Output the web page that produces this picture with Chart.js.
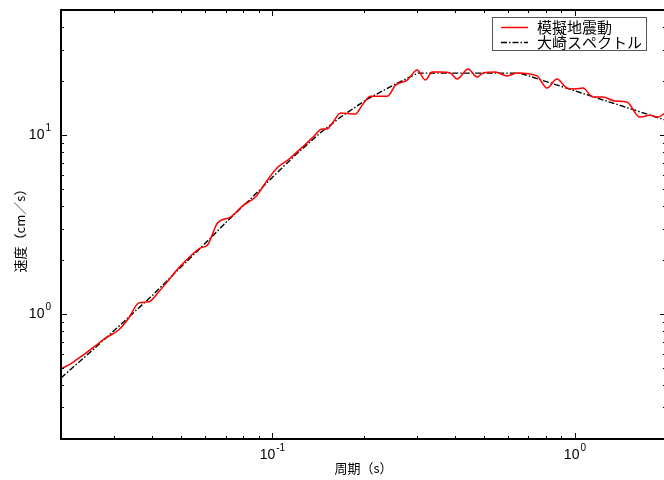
<!DOCTYPE html>
<html>
<head>
<meta charset="utf-8">
<script src="https://cdn.jsdelivr.net/npm/chart.js@4/dist/chart.umd.min.js"></script>
<style>
html, body { margin: 0; padding: 0; overflow: hidden; background: #fff; }
canvas { display: block; }
</style>
</head>
<body>
<canvas id="spectrum-chart" width="670" height="480"></canvas>
<script>
// --- values --- //
// simulated ground motion (red)
const simPeriods = [0.02, 0.0215, 0.0232, 0.0257, 0.0281, 0.031, 0.0335, 0.0361, 0.039, 0.0421,
    0.0454, 0.049, 0.0536, 0.0579, 0.061, 0.0658, 0.0727, 0.0802, 0.0879, 0.0948,
    0.104, 0.113, 0.124, 0.136, 0.146, 0.151, 0.158, 0.168, 0.188, 0.198, 0.211,
    0.24, 0.255, 0.279, 0.301, 0.32, 0.337, 0.359, 0.387, 0.408, 0.443,
    0.475, 0.497, 0.545, 0.597, 0.644, 0.749, 0.808, 0.872, 0.941, 1.0,
    1.063, 1.147, 1.237, 1.355, 1.484, 1.639, 1.768, 1.879, 2.0];
const simVelocity = [0.493, 0.526, 0.575, 0.654, 0.734, 0.814, 0.95, 1.15, 1.17, 1.33,
    1.55, 1.81, 2.11, 2.34, 2.43, 3.22, 3.48, 4.06, 4.5, 5.4,
    6.6, 7.3, 8.4, 9.7, 10.8, 10.8, 11.7, 13.3, 13.1, 14.7, 16.5,
    16.5, 19.0, 20.3, 23.1, 20.3, 22.5, 22.5, 22.2, 20.6, 23.4,
    21.1, 22.2, 22.5, 21.4, 22.2, 21.4, 18.3, 20.6, 18.3, 18.1,
    18.3, 16.3, 16.3, 15.5, 15.3, 12.6, 12.9, 12.6, 13.4];

// Osaki spectrum (black dash-dot)
const osakiPeriods = [0.02, 0.0257, 0.0322, 0.0405, 0.049, 0.0592, 0.071, 0.0846, 0.101, 0.119,
    0.144, 0.168, 0.206, 0.245, 0.271, 0.303, 0.658, 2.0];
const osakiVelocity = [0.439, 0.638, 0.902, 1.29, 1.78, 2.43, 3.31, 4.39, 5.9, 7.73,
    10.3, 12.6, 15.9, 18.6, 20.3, 22.2, 22.2, 12.1];

const seriesNames = ["模擬地震動", "大崎スペクトル"];

// axis ranges and labelled decades
const xRange = [0.02, 2];
const yRange = [0.2, 50];
const xTickValues = [0.1, 1];
const xTickExponents = ["-1", "0"];
const yTickValues = [1, 10];
const yTickExponents = ["0", "1"];
const xTitle = "周期（s）";
const yTitle = "速度（cm／s）";

const jpFont = '"Noto Sans CJK JP", sans-serif';
const numFont = '"Liberation Sans", Arial, sans-serif';

// all 1..9 x 10^n values inside a log range
const logTicks = (min, max) => {
    const ticks = [];
    for (let e = Math.floor(Math.log10(min)); e <= Math.ceil(Math.log10(max)); e++) {
        for (let m = 1; m <= 9; m++) {
            const v = parseFloat((m * Math.pow(10, e)).toPrecision(3));
            if (v >= min * 0.999 && v <= max * 1.001) ticks.push({ v, major: m === 1 });
        }
    }
    return ticks;
};

const drawPower = (ctx, exp, x, y, align) => {
    ctx.font = '14px ' + numFont;
    const wBase = ctx.measureText('10').width;
    ctx.font = '10px ' + numFont;
    const wExp = ctx.measureText(exp).width + 1;
    let start = align === 'center' ? x - (wBase + wExp) / 2 : x - wBase - wExp;
    ctx.textAlign = 'left';
    ctx.textBaseline = 'middle';
    ctx.font = '14px ' + numFont;
    ctx.fillText('10', start, y);
    ctx.font = '10px ' + numFont;
    ctx.fillText(exp, start + wBase + 1, y - 7);
};

// -- frame, inward ticks, labels, titles and legend --//
const framePlugin = {
    id: 'framePlugin',
    afterDraw(chart) {
        const { ctx, chartArea: a, scales: { x, y } } = chart;
        ctx.save();
        ctx.strokeStyle = '#000';
        ctx.fillStyle = '#000';

        ctx.lineWidth = 1;
        ctx.beginPath();
        logTicks(x.min, x.max).forEach(t => {
            const px = Math.round(x.getPixelForValue(t.v)) + 0.5;
            const len = t.major ? 6 : 3;
            ctx.moveTo(px, a.bottom); ctx.lineTo(px, a.bottom - len);
            ctx.moveTo(px, a.top); ctx.lineTo(px, a.top + len);
        });
        logTicks(y.min, y.max).forEach(t => {
            const py = Math.round(y.getPixelForValue(t.v)) + 0.5;
            const len = t.major ? 6 : 3;
            ctx.moveTo(a.left, py); ctx.lineTo(a.left + len, py);
            ctx.moveTo(a.right, py); ctx.lineTo(a.right - len, py);
        });
        ctx.stroke();

        ctx.lineWidth = 2;
        ctx.strokeRect(a.left, a.top, a.right - a.left, a.bottom - a.top);

        xTickValues.forEach((v, i) => drawPower(ctx, xTickExponents[i], x.getPixelForValue(v), a.bottom + 16, 'center'));
        yTickValues.forEach((v, i) => drawPower(ctx, yTickExponents[i], a.left - 10, y.getPixelForValue(v), 'right'));

        ctx.font = '13px ' + jpFont;
        ctx.textAlign = 'center';
        ctx.textBaseline = 'middle';
        ctx.fillText(xTitle, (a.left + a.right) / 2, a.bottom + 29);
        ctx.save();
        ctx.translate(20, (a.top + a.bottom) / 2 + 3);
        ctx.rotate(-Math.PI / 2);
        ctx.fillText(yTitle, 0, 0);
        ctx.restore();

        // legend box
        ctx.fillStyle = '#fff';
        ctx.fillRect(492, 17, 155, 34);
        ctx.strokeStyle = '#555';
        ctx.lineWidth = 1;
        ctx.strokeRect(492.5, 17.5, 154, 33);
        chart.data.datasets.forEach((ds, i) => {
            const ly = 27 + i * 15;
            ctx.strokeStyle = ds.borderColor;
            ctx.lineWidth = ds.borderWidth;
            ctx.setLineDash(ds.borderDash || []);
            ctx.beginPath();
            ctx.moveTo(501, ly + 0.5);
            ctx.lineTo(528, ly + 0.5);
            ctx.stroke();
            ctx.setLineDash([]);
            ctx.fillStyle = '#000';
            ctx.font = '15px ' + jpFont;
            ctx.textAlign = 'left';
            ctx.fillText(ds.label, 537, ly);
        });
        ctx.restore();
    }
};

const toPoints = (xs, ys) => xs.map((v, i) => ({ x: v, y: ys[i] }));

const spectrumChart = new Chart(document.getElementById('spectrum-chart'), {
    type: 'line',
    data: {
        datasets: [{
            label: seriesNames[0],
            data: toPoints(simPeriods, simVelocity),
            borderColor: '#ff0000',
            borderWidth: 1.5,
            pointRadius: 0,
            cubicInterpolationMode: 'monotone'
        }, {
            label: seriesNames[1],
            data: toPoints(osakiPeriods, osakiVelocity),
            borderColor: '#000000',
            borderWidth: 1.4,
            borderDash: [6, 2, 1.5, 2],
            pointRadius: 0,
            tension: 0
        }]
    },
    options: {
        responsive: false,
        animation: false,
        devicePixelRatio: 1,
        layout: { padding: { left: 61, top: 10, right: 4, bottom: 41 } },
        scales: {
            x: { type: 'logarithmic', min: xRange[0], max: xRange[1], display: false },
            y: { type: 'logarithmic', min: yRange[0], max: yRange[1], display: false }
        },
        plugins: {
            legend: { display: false },
            tooltip: { enabled: false }
        }
    },
    plugins: [framePlugin]
});
</script>
</body>
</html>
